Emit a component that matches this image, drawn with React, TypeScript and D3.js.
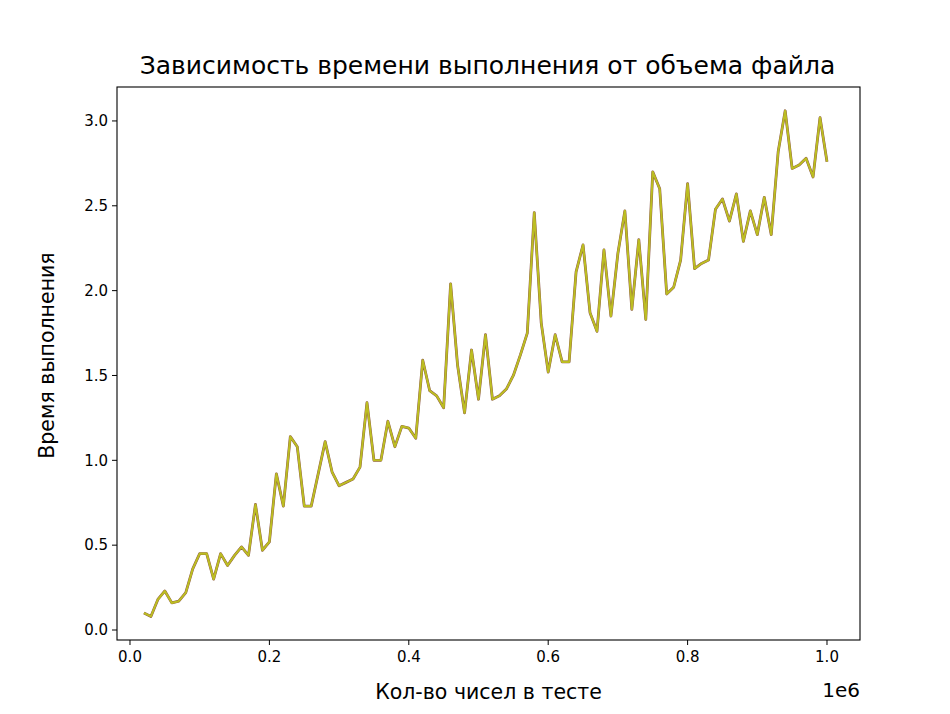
import * as d3 from "d3"

const times = [
  0.10, 0.08, 0.18, 0.23, 0.16, 0.17, 0.22, 0.36, 0.45, 0.45,
  0.30, 0.45, 0.38, 0.44, 0.49, 0.44, 0.74, 0.47, 0.52, 0.92,
  0.73, 1.14, 1.08, 0.73, 0.73, 0.92, 1.11, 0.93, 0.85, 0.87,
  0.89, 0.96, 1.34, 1.00, 1.00, 1.23, 1.08, 1.20, 1.19, 1.13,
  1.59, 1.41, 1.38, 1.31, 2.04, 1.56, 1.28, 1.65, 1.36, 1.74,
  1.36, 1.38, 1.42, 1.50, 1.62, 1.75, 2.46, 1.81, 1.52, 1.74,
  1.58, 1.58, 2.11, 2.27, 1.87, 1.76, 2.24, 1.85, 2.22, 2.47,
  1.89, 2.30, 1.83, 2.70, 2.60, 1.98, 2.02, 2.18, 2.63, 2.13,
  2.16, 2.18, 2.48, 2.54, 2.41, 2.57, 2.29, 2.47, 2.33, 2.55,
  2.33, 2.82, 3.06, 2.72, 2.74, 2.78, 2.67, 3.02, 2.76,
]
const counts = times.map((_, i) => (i + 2) * 10000)
const xTicks = [0, 0.2, 0.4, 0.6, 0.8, 1.0]
const yTicks = [0, 0.5, 1.0, 1.5, 2.0, 2.5, 3.0]

const W = 950, H = 714
const L = 117, R = 860, T = 87, B = 640

export default function App() {
  const x = d3.scaleLinear().domain([-18650, 1047350]).range([L, R])
  const y = d3.scaleLinear().domain([-0.0589, 3.2]).range([B, T])
  const line = d3.line<number>().x((_, i) => x(counts[i])).y((d) => y(d))
  const path = line(times) || ""
  const font = "DejaVu Sans, sans-serif"
  return (
    <div style={{ position: "absolute", left: 0, top: 0 }}>
      <svg width={W} height={H} style={{ display: "block", background: "#fff" }} fontFamily={font}>
        <path d={path} fill="none" stroke="#8c564b" strokeWidth={2.8} strokeLinejoin="round" />
        <path d={path} fill="none" stroke="#bcbd22" strokeWidth={2.1} strokeLinejoin="round" />
        <rect x={L} y={T} width={R - L} height={B - T} fill="none" stroke="#000" strokeWidth={1.1} />
        {xTicks.map((t) => (
          <g key={t} transform={`translate(${x(t * 1e6)},${B})`}>
            <line y2={5} stroke="#000" />
            <text y={22} textAnchor="middle" fontSize={15}>{t.toFixed(1)}</text>
          </g>
        ))}
        {yTicks.map((t) => (
          <g key={t} transform={`translate(${L},${y(t)})`}>
            <line x2={-5} stroke="#000" />
            <text x={-9} dy="0.35em" textAnchor="end" fontSize={15}>{t.toFixed(1)}</text>
          </g>
        ))}
        <text x={R} y={697} textAnchor="end" fontSize={20}>1e6</text>
        <text x={(L + R) / 2} y={699} textAnchor="middle" fontSize={20.5}>Кол-во чисел в тесте</text>
        <text transform={`translate(54,${(T + B) / 2 - 8}) rotate(-90)`} textAnchor="middle" fontSize={20.5}>Время выполнения</text>
        <text x={(L + R) / 2 - 1} y={74} textAnchor="middle" fontSize={25}>Зависимость времени выполнения от объема файла</text>
      </svg>
    </div>
  )
}
